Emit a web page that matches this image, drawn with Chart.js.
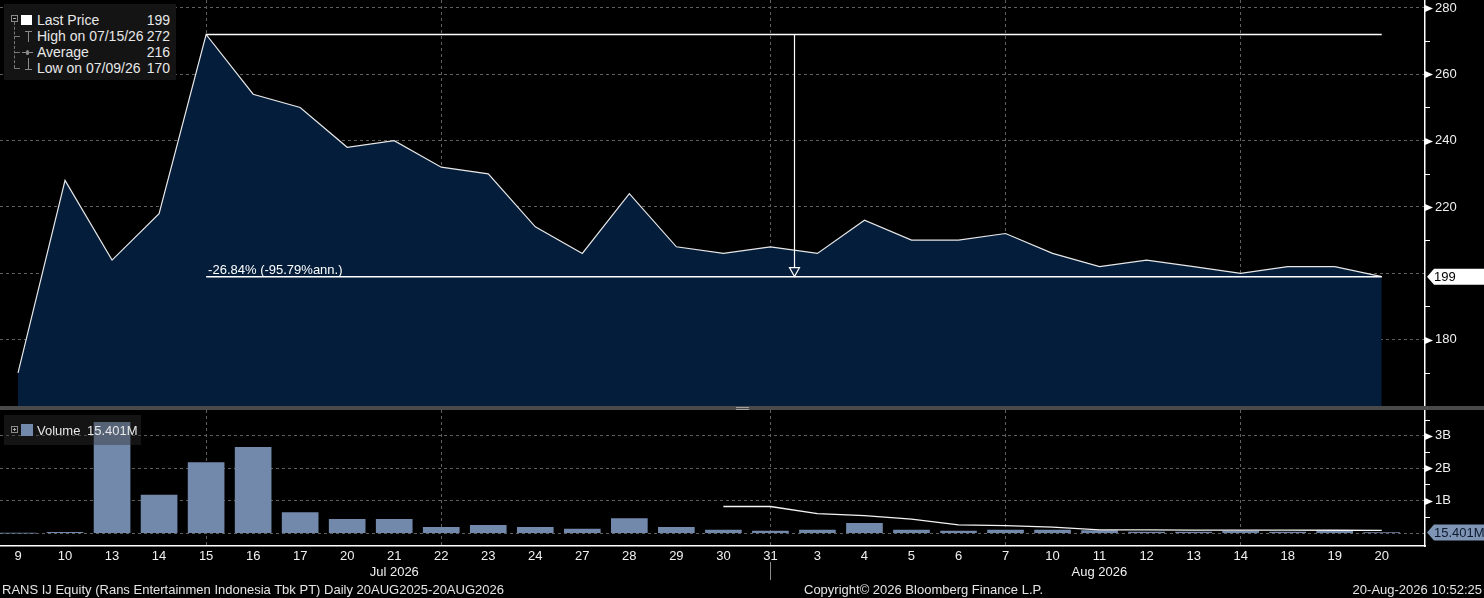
<!DOCTYPE html>
<html>
<head>
<meta charset="utf-8">
<title>RANS IJ Equity</title>
<script src="https://cdn.jsdelivr.net/npm/chart.js@4.4.1/dist/chart.umd.min.js"></script>
<style>
  html, body { margin: 0; padding: 0; background: #000; }
  body { width: 1484px; height: 598px; overflow: hidden; position: relative;
         font-family: "Liberation Sans", Arial, sans-serif; color: #e8e8e8; }
  canvas { position: absolute; left: 0; }
  #price { top: 0; }
  #vol { top: 406px; }
  .sep { position: absolute; left: 0; top: 406px; width: 1484px; height: 4px; background: #4a4a4a; }
  .grip { position: absolute; left: 736px; top: 407px; width: 13px; height: 1px;
          border-top: 1px solid #a0a0a0; border-bottom: 1px solid #a0a0a0; }
  .box { position: absolute; left: 4px; }
  #priceLegend { top: 4px; width: 172px; height: 76px; background: #141414; font-size: 14px; }
  #volLegend { top: 415px; width: 137px; height: 30px; background: rgba(48,48,48,0.42); font-size: 13px; }
  .row { position: absolute; left: 33px; width: 133px; height: 16px; line-height: 16px; white-space: nowrap; }
  .row .val { position: absolute; right: 0; top: 0; }
  .ic { position: absolute; }
  .boxic { width: 5px; height: 5px; border: 1px solid #8a8a8a; }
  .boxic::after { content: ''; position: absolute; left: 1px; top: 2px; width: 3px; height: 1px; background: #aaa; }
  .plus::before { content: ''; position: absolute; left: 2px; top: 1px; width: 1px; height: 3px; background: #aaa; }
  .tree { border-left: 1px dashed #777; }
  .stub { border-top: 1px dashed #777; height: 0; }
  .g { background: #8a8a8a; }
  .lbl { position: absolute; white-space: nowrap; font-size: 13px; line-height: 16px; color: #f0f0f0; }
  .foot { position: absolute; top: 582px; font-size: 13px; line-height: 16px; white-space: nowrap; color: #e4e4e4; }
</style>
</head>
<body>
<canvas id="price" width="1484" height="406"></canvas>
<canvas id="vol" width="1484" height="192"></canvas>
<div class="sep"></div>
<div class="grip"></div>

<div id="priceLegend" class="box">
  <div class="ic boxic" style="left:7px;top:11px"></div>
  <div class="ic" style="left:17px;top:11px;width:11px;height:10px;background:#fff"></div>
  <div class="ic tree" style="left:10px;top:18px;height:46px"></div>
  <div class="ic stub" style="left:10px;top:32px;width:6px"></div>
  <div class="ic stub" style="left:10px;top:48px;width:6px"></div>
  <div class="ic stub" style="left:10px;top:64px;width:6px"></div>
  <div class="ic g" style="left:21px;top:27px;width:7px;height:1px"></div>
  <div class="ic g" style="left:24px;top:27px;width:1px;height:11px"></div>
  <div class="ic g" style="left:18px;top:48px;width:11px;height:1px"></div>
  <div class="ic g" style="left:22px;top:46px;width:3px;height:5px;border-radius:2px"></div>
  <div class="ic g" style="left:24px;top:54px;width:1px;height:11px"></div>
  <div class="ic g" style="left:21px;top:65px;width:7px;height:1px"></div>
  <div class="row" style="top:8px"><span id="lpName">Last Price</span><span class="val" id="lpVal"></span></div>
  <div class="row" style="top:24px"><span id="hiName"></span><span class="val" id="hiVal"></span></div>
  <div class="row" style="top:40px"><span>Average</span><span class="val" id="avgVal"></span></div>
  <div class="row" style="top:56px"><span id="loName"></span><span class="val" id="loVal"></span></div>
</div>

<div id="volLegend" class="box">
  <div class="ic boxic plus" style="left:7px;top:11px"></div>
  <div class="ic" style="left:17px;top:9px;width:12px;height:12px;background:#7389ab"></div>
  <div class="row" style="top:8px;width:100px">Volume <span id="volVal" style="margin-left:3px"></span></div>
</div>

<div id="months"></div>
<div class="foot" style="left:2px">RANS IJ Equity (Rans Entertainmen Indonesia Tbk PT) Daily 20AUG2025-20AUG2026</div>
<div class="foot" style="left:804px">Copyright© 2026 Bloomberg Finance L.P.</div>
<div class="foot" style="right:2px">20-Aug-2026 10:52:25</div>

<script>
// trading days shown on the axis
const dayLabels = ['9', '10', '13', '14', '15', '16', '17', '20', '21', '22', '23', '24', '27', '28', '29',
                   '30', '31', '3', '4', '5', '6', '7', '10', '11', '12', '13', '14', '18', '19', '20'];
const monthLabels = ['Jul 2026', 'Aug 2026'];
const monthAt = [8, 23];
const monthBreak = 16;
const gridDays = [4, 9, 16, 21, 26];

const lastPrice = [170, 228, 204, 218, 272, 254, 250, 238, 240, 232, 230, 214, 206, 224, 208,
                   206, 208, 206, 216, 210, 210, 212, 206, 202, 204, 202, 200, 202, 202, 199];

const volume = [0, 20e6, 3420e6, 1170e6, 2180e6, 2650e6, 630e6, 420e6, 420e6, 180e6, 240e6, 180e6, 120e6, 450e6, 180e6,
                90e6, 60e6, 90e6, 300e6, 90e6, 60e6, 90e6, 90e6, 80e6, 30e6, 30e6, 60e6, 30e6, 60e6, 15.401e6];

// volume average only drawn from the 30th on
const volumeAvgStart = 15;
const volumeAvg = [820e6, 820e6, 600e6, 540e6, 430e6, 250e6, 230e6, 180e6, 100e6, 95e6, 90e6, 90e6, 88e6, 86e6, 85e6];

const priceTicks = [180, 220, 240, 260, 280];
const volumeTicks = [1e9, 2e9, 3e9];
const highDate = '07/15/26';
const lowDate = '07/09/26';
const daysHighToLast = 36;

const xMin = -0.383, xMax = 29.92;
const gridColor = '#606060';

Chart.defaults.font.family = '"Liberation Sans", Arial, sans-serif';
Chart.defaults.font.size = 13;
Chart.defaults.color = '#f0f0f0';

const lastIdx = lastPrice.length - 1;
const last = lastPrice[lastIdx];
const high = Math.max(...lastPrice);
const low = Math.min(...lastPrice);
const hiIdx = lastPrice.indexOf(high);
const avg = Math.round(lastPrice.reduce((a, b) => a + b, 0) / lastPrice.length);
const chg = (last / high - 1) * 100;
const chgAnn = (Math.pow(last / high, 365 / daysHighToLast) - 1) * 100;
const changeText = chg.toFixed(2) + '% (' + chgAnn.toFixed(2) + '%ann.)';

document.getElementById('lpVal').textContent = last;
document.getElementById('hiName').textContent = 'High on ' + highDate;
document.getElementById('hiVal').textContent = high;
document.getElementById('avgVal').textContent = avg;
document.getElementById('loName').textContent = 'Low on ' + lowDate;
document.getElementById('loVal').textContent = low;
const volText = (volume[lastIdx] / 1e6).toFixed(3) + 'M';
document.getElementById('volVal').textContent = volText;

function drawTag(ctx, left, py, right, fill, color, text) {
    ctx.fillStyle = fill;
    ctx.beginPath();
    ctx.moveTo(left + 2, py);
    ctx.lineTo(left + 9, py - 8);
    ctx.lineTo(right, py - 8);
    ctx.lineTo(right, py + 8);
    ctx.lineTo(left + 9, py + 8);
    ctx.closePath();
    ctx.fill();
    ctx.fillStyle = color;
    ctx.font = '13px "Liberation Sans"';
    ctx.textBaseline = 'middle';
    ctx.textAlign = 'left';
    ctx.fillText(text, left + 9, py + 1);
}

function axisMark(ctx, right, py, major) {
    py = Math.round(py) + 0.5;
    ctx.beginPath();
    if (major) {
        ctx.moveTo(right, py - 3.5);
        ctx.lineTo(right + 8, py);
        ctx.lineTo(right, py + 3.5);
        ctx.closePath();
        ctx.fill();
    } else {
        ctx.moveTo(right, py);
        ctx.lineTo(right + 5, py);
        ctx.stroke();
    }
}

const priceMarks = {
    id: 'priceMarks',
    afterDraw(chart) {
        const { ctx, chartArea: a, scales: { x, y } } = chart;
        ctx.save();
        ctx.fillStyle = '#fff';
        ctx.strokeStyle = '#fff';
        ctx.lineWidth = 1;
        for (let v = 160; v <= 280; v += 10) {
            if (v === 200) continue;
            axisMark(ctx, a.right, y.getPixelForValue(v), priceTicks.includes(v));
        }

        // arrow from high to last
        const ax = Math.round(x.getPixelForValue((hiIdx + lastIdx) / 2)) + 0.5;
        const yHi = y.getPixelForValue(high);
        const yLast = y.getPixelForValue(last);
        ctx.lineWidth = 1.2;
        ctx.beginPath();
        ctx.moveTo(ax, yHi);
        ctx.lineTo(ax, yLast - 9);
        ctx.stroke();
        ctx.beginPath();
        ctx.moveTo(ax - 5, yLast - 9);
        ctx.lineTo(ax + 5, yLast - 9);
        ctx.lineTo(ax, yLast);
        ctx.closePath();
        ctx.stroke();

        ctx.fillStyle = '#fff';
        ctx.font = '13px "Liberation Sans"';
        ctx.textAlign = 'left';
        ctx.textBaseline = 'alphabetic';
        ctx.fillText(changeText, x.getPixelForValue(hiIdx) + 2, yLast - 3);

        drawTag(ctx, a.right, yLast, chart.width, '#fff', '#000', String(last));
        ctx.restore();
    }
};

const volMarks = {
    id: 'volMarks',
    afterDraw(chart) {
        const { ctx, chartArea: a, scales: { x, y } } = chart;
        ctx.save();
        ctx.fillStyle = '#fff';
        ctx.strokeStyle = '#fff';
        ctx.lineWidth = 1;
        for (let i = 1; i <= 7; i++) {
            const v = i * 5e8;
            axisMark(ctx, a.right, y.getPixelForValue(v), volumeTicks.includes(v));
        }
        // month break tick
        const mx = Math.round(x.getPixelForValue(monthBreak)) + 0.5;
        ctx.strokeStyle = '#8a8a8a';
        ctx.beginPath();
        ctx.moveTo(mx, a.bottom + 16);
        ctx.lineTo(mx, a.bottom + 34);
        ctx.stroke();

        drawTag(ctx, a.right, y.getPixelForValue(volume[lastIdx]), chart.width, '#7f95b6', '#0e1a2e', volText);
        ctx.restore();
    }
};

const gridX = {
    type: 'linear', min: xMin, max: xMax, offset: false, z: 1,
    afterBuildTicks: s => { s.ticks = gridDays.map(v => ({ value: v })); },
    afterFit: s => { s.paddingLeft = 0; s.paddingRight = 0; },
    ticks: { display: false },
    grid: { color: gridColor, drawTicks: false, offset: false },
    border: { display: false, dash: [3, 3] }
};

const graficoPreco = new Chart(document.getElementById('price'), {
    type: 'line',
    data: {
        datasets: [{
            label: 'Last Price',
            data: lastPrice.map((v, i) => ({ x: i, y: v })),
            borderColor: '#e8e8e8',
            borderWidth: 1.2,
            backgroundColor: '#031d3b',
            fill: 'start',
            pointRadius: 0,
            tension: 0,
            order: 3
        }, {
            label: 'High',
            data: [{ x: hiIdx, y: high }, { x: lastIdx, y: high }],
            borderColor: '#fff',
            borderWidth: 1.5,
            pointRadius: 0,
            fill: false,
            order: 1
        }, {
            label: 'Last',
            data: [{ x: hiIdx, y: last }, { x: lastIdx, y: last }],
            borderColor: '#fff',
            borderWidth: 1.5,
            pointRadius: 0,
            fill: false,
            order: 1
        }]
    },
    options: {
        responsive: false,
        animation: false,
        events: [],
        layout: { padding: 0 },
        plugins: { legend: { display: false }, tooltip: { enabled: false } },
        scales: {
            x: gridX,
            y: {
                position: 'right', min: 160, max: 282.4, z: 1,
                afterBuildTicks: s => {
                    const t = [];
                    for (let v = 160; v <= 280; v += 10) t.push({ value: v });
                    s.ticks = t;
                },
                afterFit: s => { s.width = 59; s.paddingTop = 0; s.paddingBottom = 0; },
                ticks: { padding: 10, autoSkip: false, callback: v => priceTicks.includes(v) ? String(v) : '' },
                grid: { drawTicks: false, color: c => (c.tick && c.tick.value % 20 === 0) ? gridColor : 'transparent' },
                border: { color: '#fff', width: 1.5, dash: [3, 3] }
            }
        }
    },
    plugins: [priceMarks]
});

const graficoVolume = new Chart(document.getElementById('vol'), {
    type: 'bar',
    data: {
        datasets: [{
            type: 'line',
            label: 'Volume avg',
            data: volumeAvg.map((v, i) => ({ x: volumeAvgStart + i, y: v })),
            borderColor: '#f4f4f4',
            borderWidth: 1.3,
            pointRadius: 0,
            fill: false,
            order: 0
        }, {
            label: 'Volume',
            data: volume.map((v, i) => ({ x: i, y: v })),
            backgroundColor: '#7389ab',
            barThickness: 36,
            order: 2
        }]
    },
    options: {
        responsive: false,
        animation: false,
        events: [],
        layout: { padding: { top: 4, left: 0, right: 0, bottom: 0 } },
        plugins: { legend: { display: false }, tooltip: { enabled: false } },
        scales: {
            x: {
                type: 'linear', min: xMin, max: xMax, offset: false, z: 1,
                afterBuildTicks: s => { s.ticks = dayLabels.map((d, i) => ({ value: i })); },
                afterFit: s => { s.height = 52; s.paddingLeft = 0; s.paddingRight = 0; },
                ticks: { padding: 3, autoSkip: false, maxRotation: 0, callback: v => dayLabels[v] },
                grid: { drawTicks: false, offset: false, color: c => (c.tick && gridDays.includes(c.tick.value)) ? gridColor : 'transparent' },
                border: { color: '#fff', width: 1.5, dash: [3, 3] }
            },
            y: {
                position: 'right', min: -0.4e9, max: 3.8e9, z: 1,
                afterBuildTicks: s => {
                    const t = [];
                    for (let i = 0; i <= 7; i++) t.push({ value: i * 5e8 });
                    s.ticks = t;
                },
                afterFit: s => { s.width = 59; s.paddingTop = 0; s.paddingBottom = 0; },
                ticks: { padding: 10, autoSkip: false, callback: v => volumeTicks.includes(v) ? (v / 1e9) + 'B' : '' },
                grid: { drawTicks: false, color: c => (c.tick && c.tick.value % 1e9 === 0) ? gridColor : 'transparent' },
                border: { color: '#fff', width: 1.5, dash: [3, 3] }
            }
        }
    },
    plugins: [volMarks]
});

// month names under the day labels
const months = document.getElementById('months');
monthLabels.forEach((m, i) => {
    const d = document.createElement('div');
    d.className = 'lbl';
    d.textContent = m;
    months.appendChild(d);
    const px = graficoVolume.scales.x.getPixelForValue(monthAt[i]);
    d.style.left = (px - d.offsetWidth / 2) + 'px';
    d.style.top = '564px';
});
</script>
</body>
</html>
